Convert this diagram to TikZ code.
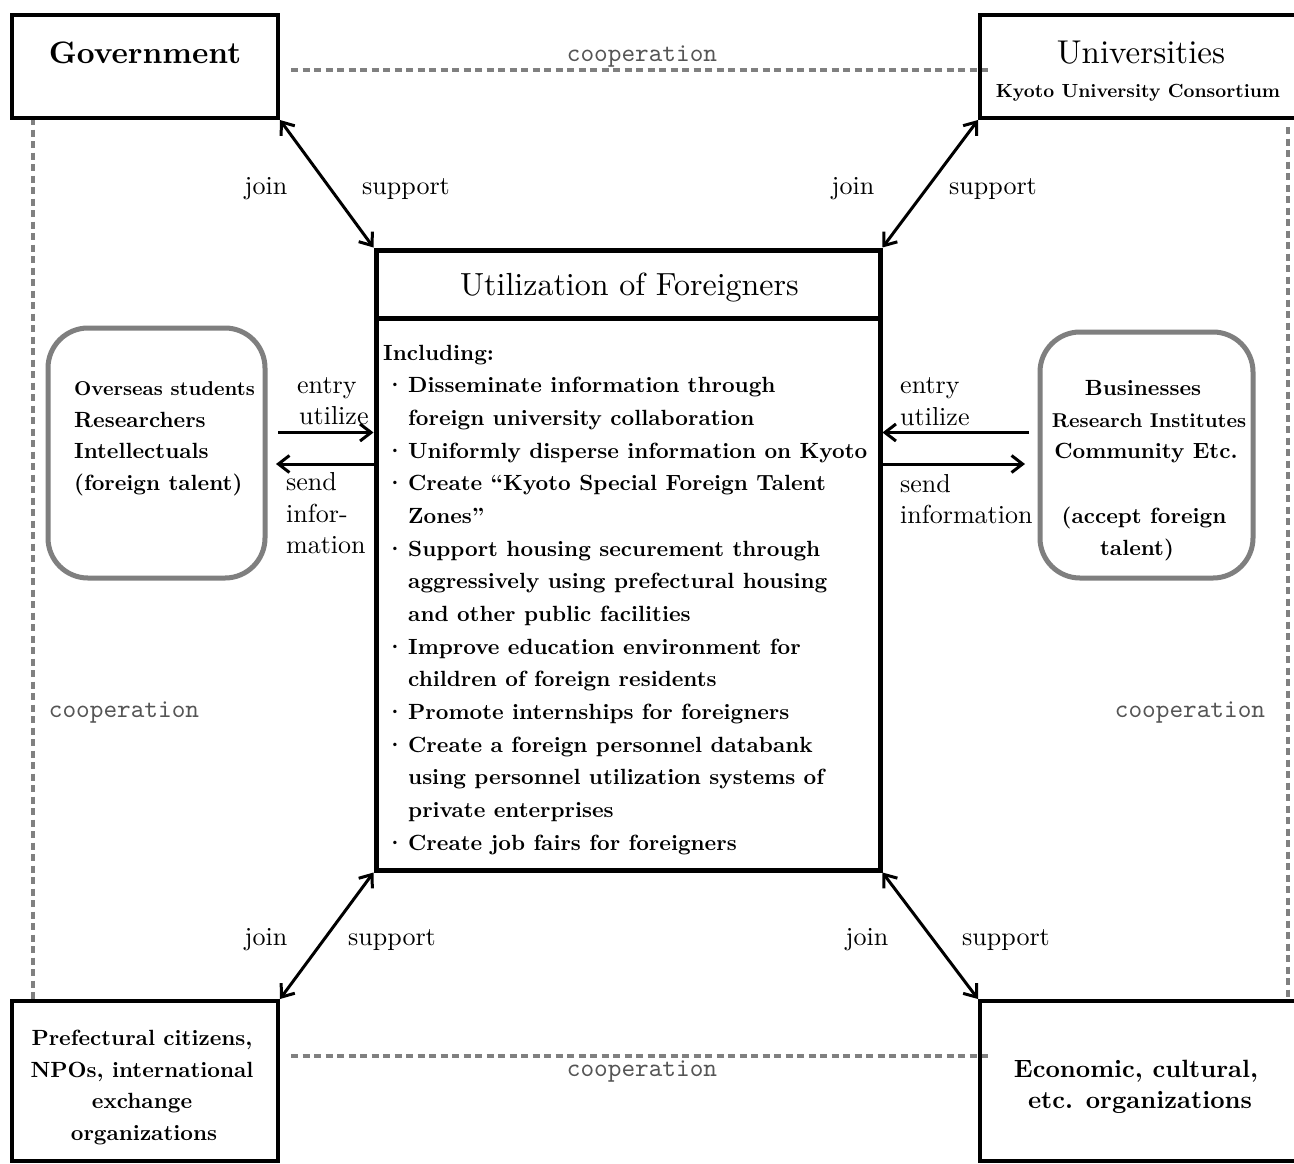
\documentclass[tikz,border=0pt]{standalone}
\usepackage{fontspec}
\setmainfont{lmroman10}[Extension=.otf, UprightFont=*-regular, BoldFont=*-bold, ItalicFont=*-italic, BoldItalicFont=*-bolditalic]
\setmonofont{lmmono10}[Extension=.otf, UprightFont=*-regular]
\usetikzlibrary{arrows.meta,calc}
\definecolor{dashgray}{HTML}{808080}
\definecolor{rgray}{HTML}{7F7F7F}
\definecolor{tgray}{HTML}{555555}
\newcommand\myfs[2]{\fontsize{#1}{#2}\selectfont}
\tikzset{
  sqbox/.style={draw, line width=4pt, inner sep=0pt},
  rbox/.style={draw=rgray, line width=5pt, rounded corners=40pt, inner sep=0pt},
  coopline/.style={draw=dashgray, line width=4pt, dash pattern=on 7pt off 4.5pt},
  conn/.style={line width=3pt, draw=black},
  lbl/.style={font=\myfs{26}{30}, anchor=base, inner sep=0pt},
  lblw/.style={lbl, anchor=base west},
  coop/.style={font=\ttfamily\myfs{26}{30}, text=tgray, anchor=base, inner sep=0pt},
  bt/.style={font=\bfseries\myfs{22}{26}, anchor=base west, inner sep=0pt},
  btc/.style={bt, anchor=base},
  bts/.style={font=\bfseries\myfs{20}{24}, anchor=base, inner sep=0pt}
}
\begin{document}
\begin{tikzpicture}[x=1pt,y=-1pt,>={Straight Barb[length=11pt,width=17pt]}]
\clip (0,0) rectangle (1294,1163);
\fill[white] (0,0) rectangle (1294,1163);

% cooperation dashed lines
\coordinate (t1) at (291,70);   \coordinate (t2) at (990,70);
\coordinate (b1) at (291,1056); \coordinate (b2) at (990,1056);
\coordinate (v1) at (33,118);   \coordinate (v2) at (33,1001);
\coordinate (w1) at (1288,127); \coordinate (w2) at (1288,1001);
\draw[coopline] (t1) -- (t2);
\draw[coopline] (b1) -- (b2);
\draw[coopline] (v1) -- (v2);
\draw[coopline] (w1) -- (w2);
\node[coop] (coopT) at (642,61) {cooperation};
\node[coop] (coopB) at (642,1076) {cooperation};
\node[coop] (coopL) at (124,717) {cooperation};
\node[coop] (coopR) at (1190,717) {cooperation};

% corner boxes
\node[sqbox, minimum width=266pt, minimum height=103pt] (gov) at (145,66.5) {};
\node[sqbox, minimum width=320pt, minimum height=103pt] (uni) at (1140,66.5) {};
\node[sqbox, minimum width=266pt, minimum height=160pt] (pref) at (145,1081) {};
\node[sqbox, minimum width=320pt, minimum height=160pt] (econ) at (1140,1081) {};

\node[font=\bfseries\myfs{31}{36}, anchor=base, inner sep=0pt] (govt) at (145,63) {Government};
\node[font=\myfs{33}{38}, anchor=base, inner sep=0pt] (unit) at (1141,63) {Universities};
\node[font=\bfseries\myfs{19}{22}, anchor=base, inner sep=0pt] (unis) at (1138,97) {Kyoto University Consortium};

\node[btc] (p1) at (142,1045) {Prefectural citizens,};
\node[btc] (p2) at (142,1077) {NPOs, international};
\node[btc] (p3) at (142,1108) {exchange};
\node[btc] (p4) at (144,1140) {organizations};

\node[font=\bfseries\myfs{25}{30}, anchor=base, inner sep=0pt] (e1) at (1136,1077) {Economic, cultural,};
\node[font=\bfseries\myfs{25}{30}, anchor=base, inner sep=0pt] (e2) at (1140,1108) {etc. organizations};

% central box
\node[draw, line width=5pt, inner sep=0pt, minimum width=504pt, minimum height=620pt] (ctr) at (628,560) {};
\coordinate (hL) at (376,318); \coordinate (hR) at (880,318);
\draw[line width=5pt] (hL) -- (hR);
\node[font=\myfs{32}{38}, anchor=base, inner sep=0pt] (ctrt) at (629.5,295) {Utilization of Foreigners};

\node[bt] (c0) at (383,360) {Including:};
\foreach \i/\t in {
  1/{Disseminate information through},
  2/{foreign university collaboration},
  3/{Uniformly disperse information on Kyoto},
  4/{Create \textquotedblleft Kyoto Special Foreign Talent},
  5/{Zones\textquotedblright},
  6/{Support housing securement through},
  7/{aggressively using prefectural housing},
  8/{and other public facilities},
  9/{Improve education environment for},
  10/{children of foreign residents},
  11/{Promote internships for foreigners},
  12/{Create a foreign personnel databank},
  13/{using personnel utilization systems of},
  14/{private enterprises},
  15/{Create job fairs for foreigners}}
  \node[bt] (c\i) at (408,{360+32.67*\i}) {\t};
\foreach \i in {1,3,4,6,9,11,12,15}
  \node[btc] (d\i) at (395,{360+32.67*\i}) {\textperiodcentered};

% rounded side boxes
\node[rbox, minimum width=217pt, minimum height=250pt] (lbox) at (156.5,453) {};
\node[rbox, minimum width=213pt, minimum height=246pt] (rbx) at (1146.5,455) {};

\node[bts, anchor=base west] (l1) at (74,395) {Overseas students};
\node[bt] (l2) at (74,427) {Researchers};
\node[bt] (l3) at (74,458) {Intellectuals};
\node[bt] (l4) at (74,490) {(foreign talent)};

\node[btc] (r1) at (1143,395) {Businesses};
\node[bts] (r2) at (1149,427) {Research Institutes};
\node[btc] (r3) at (1146,458) {Community Etc.};
\node[btc] (r4) at (1144,523) {(accept foreign};
\node[btc] (r5) at (1137,555) {talent)};

% diagonal connectors
\draw[conn,<->] (gov.south east) -- (ctr.north west);
\draw[conn,<->] (uni.south west) -- (ctr.north east);
\draw[conn,<->] (ctr.south west) -- (pref.north east);
\draw[conn,<->] (ctr.south east) -- (econ.north west);

\node[lbl] (j1) at (266,194) {join};
\node[lbl] (s1) at (406,194) {support};
\node[lbl] (j2) at (853,194) {join};
\node[lbl] (s2) at (993,194) {support};
\node[lbl] (j3) at (266,945) {join};
\node[lbl] (s3) at (392,945) {support};
\node[lbl] (j4) at (867,945) {join};
\node[lbl] (s4) at (1006,945) {support};

% horizontal connectors
\coordinate (la) at (278,432.5);
\coordinate (lb) at (276,464);
\coordinate (ra) at (1029,432.5);
\coordinate (rb) at (1025,464);
\draw[conn,->] (la) -- (la -| ctr.west);
\draw[conn,->] (lb -| ctr.west) -- (lb);
\draw[conn,->] (ra) -- (ra -| ctr.east);
\draw[conn,->] (rb -| ctr.east) -- (rb);

\node[lblw] (le1) at (297,393) {entry};
\node[lblw] (le2) at (299,424) {utilize};
\node[lblw] (le3) at (286,490) {send};
\node[lblw] (le4) at (286,522) {infor-};
\node[lblw] (le5) at (286,553) {mation};

\node[lblw] (re1) at (900,393) {entry};
\node[lblw] (re2) at (900,425) {utilize};
\node[lblw] (re3) at (900,492) {send};
\node[lblw] (re4) at (900,523) {information};
\end{tikzpicture}
\end{document}
